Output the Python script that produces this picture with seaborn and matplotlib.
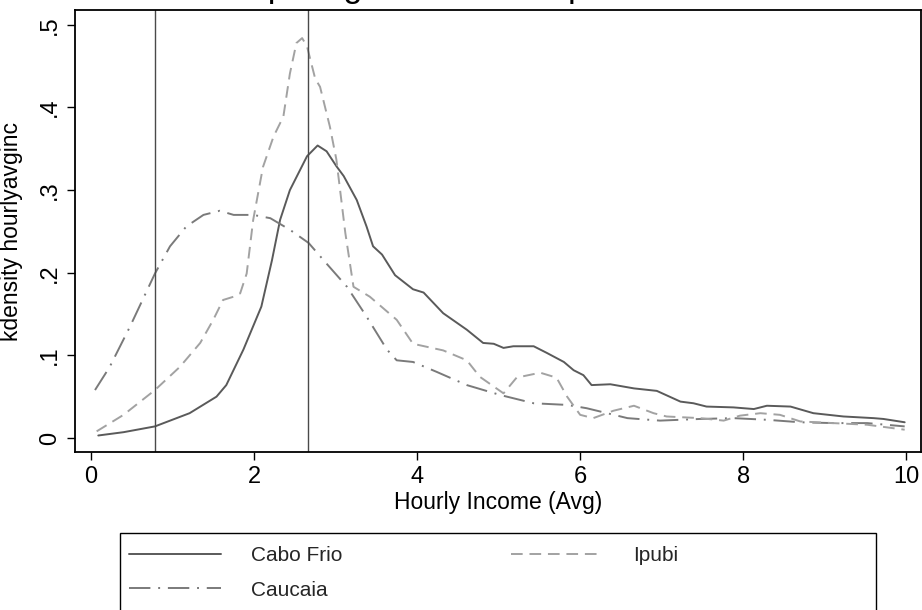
import pandas as pd
import seaborn as sns
import matplotlib.pyplot as plt
from matplotlib.patches import Rectangle

# kernel density of hourly income
cabo_x = [0.09, 0.40, 0.785, 1.21, 1.54, 1.66, 1.87, 2.09, 2.22, 2.32, 2.44, 2.65, 2.78, 2.89,
          3.01, 3.10, 3.26, 3.38, 3.46, 3.57, 3.73, 3.95, 4.08, 4.32, 4.61, 4.81, 4.94, 5.06,
          5.18, 5.43, 5.59, 5.80, 5.92, 6.04, 6.14, 6.37, 6.66, 6.94, 7.23, 7.39, 7.55, 7.88,
          8.13, 8.29, 8.58, 8.86, 9.23, 9.60, 9.72, 9.98]
cabo_y = [0.003, 0.007, 0.014, 0.030, 0.050, 0.064, 0.107, 0.159, 0.215, 0.264, 0.300, 0.341, 0.354, 0.347,
          0.329, 0.317, 0.288, 0.256, 0.232, 0.222, 0.197, 0.180, 0.176, 0.151, 0.131, 0.115, 0.114, 0.109,
          0.111, 0.111, 0.103, 0.092, 0.082, 0.076, 0.064, 0.065, 0.060, 0.057, 0.044, 0.042, 0.038, 0.037,
          0.035, 0.039, 0.038, 0.030, 0.026, 0.024, 0.023, 0.019]

caucaia_x = [0.05, 0.23, 0.48, 0.785, 0.97, 1.17, 1.38, 1.58, 1.75, 1.99, 2.20, 2.44, 2.67, 2.89,
             3.14, 3.38, 3.63, 3.75, 3.95, 4.24, 4.61, 5.02, 5.43, 5.84, 6.08, 6.33, 6.58, 6.98,
             7.47, 7.88, 8.29, 8.70, 9.10, 9.52, 9.98]
caucaia_y = [0.058, 0.086, 0.135, 0.199, 0.232, 0.256, 0.270, 0.275, 0.270, 0.270, 0.266, 0.252, 0.236, 0.211,
             0.183, 0.147, 0.107, 0.094, 0.092, 0.080, 0.064, 0.052, 0.042, 0.040, 0.036, 0.030, 0.024, 0.021,
             0.023, 0.024, 0.022, 0.019, 0.018, 0.018, 0.014]

ipubi_x = [0.07, 0.40, 0.785, 1.09, 1.34, 1.50, 1.62, 1.75, 1.83, 1.91, 1.99, 2.11, 2.24, 2.36,
           2.44, 2.52, 2.59, 2.65, 2.75, 2.81, 2.93, 3.01, 3.12, 3.22, 3.42, 3.75, 3.95, 4.32,
           4.61, 4.77, 5.06, 5.22, 5.51, 5.71, 5.84, 6.00, 6.16, 6.41, 6.66, 6.90, 7.06, 7.47,
           7.76, 7.96, 8.21, 8.45, 8.70, 9.10, 9.52, 9.98]
ipubi_y = [0.008, 0.028, 0.058, 0.086, 0.115, 0.143, 0.167, 0.171, 0.175, 0.199, 0.264, 0.328, 0.365, 0.389,
           0.441, 0.478, 0.484, 0.474, 0.435, 0.425, 0.377, 0.337, 0.248, 0.183, 0.171, 0.143, 0.114, 0.106,
           0.094, 0.074, 0.054, 0.073, 0.079, 0.073, 0.050, 0.028, 0.024, 0.033, 0.039, 0.030, 0.026, 0.024,
           0.021, 0.027, 0.030, 0.028, 0.020, 0.018, 0.016, 0.010]

ref_lines = [0.785, 2.66]
order = ['Cabo Frio', 'Caucaia', 'Ipubi']
x_ticks = [0, 2, 4, 6, 8, 10]
y_ticks = [0, 0.1, 0.2, 0.3, 0.4, 0.5]
y_tick_labels = ['0', '.1', '.2', '.3', '.4', '.5']

df = pd.concat([
    pd.DataFrame({'income': cabo_x, 'density': cabo_y, 'city': 'Cabo Frio'}),
    pd.DataFrame({'income': caucaia_x, 'density': caucaia_y, 'city': 'Caucaia'}),
    pd.DataFrame({'income': ipubi_x, 'density': ipubi_y, 'city': 'Ipubi'}),
], ignore_index=True)

sns.set_theme(style='white')
plt.rcParams['font.family'] = ['Liberation Sans', 'DejaVu Sans']

fig = plt.figure(figsize=(9.22, 6.10), dpi=100)
ax = fig.add_axes([0.0813, 0.259, 0.9176, 0.7246])

colors = {'Cabo Frio': '#5a5a5a', 'Caucaia': '#7a7a7a', 'Ipubi': '#a2a2a2'}
dashes = {'Cabo Frio': '', 'Caucaia': (11, 4, 1, 4), 'Ipubi': (6, 3.5)}
sns.lineplot(data=df, x='income', y='density', hue='city', style='city',
             hue_order=order, style_order=order, palette=colors, dashes=dashes,
             linewidth=1.4, estimator=None, sort=False, ax=ax)

for xv in ref_lines:
    ax.axvline(xv, color='#4a4a4a', linewidth=1.0)

ax.set_xlim(-0.196, 10.18)
ax.set_ylim(-0.017, 0.518)
ax.set_xticks(x_ticks)
ax.set_xticklabels([str(t) for t in x_ticks])
ax.set_yticks(y_ticks)
ax.set_yticklabels(y_tick_labels, rotation=90, va='center')
ax.tick_params(axis='both', which='major', direction='out', length=6, width=1,
               color='black', labelsize=17, labelcolor='black', bottom=True, left=True, pad=4)
for s in ax.spines.values():
    s.set_color('black')
    s.set_linewidth(1.3)

ax.set_xlabel('Hourly Income (Avg)', fontsize=16.5, color='black', labelpad=2)
ax.set_ylabel('kdensity hourlyavginc', fontsize=16.5, color='black')
ax.yaxis.set_label_coords(-0.062, 0.5)

# title sits mostly above the image edge, as in the reference
fig.text(196 / 922, 1 + 3 / 610, 'Comparing Three Municipalities', fontsize=24.5,
         ha='left', va='baseline', color='black')

handles, labels = ax.get_legend_handles_labels()
ax.get_legend().remove()
fig.legend(handles, labels, ncol=2, loc='upper left', bbox_to_anchor=(129 / 922, 1 - 546 / 610),
           frameon=False, fontsize=15, handlelength=4.4, handletextpad=1.45,
           columnspacing=8.1, labelspacing=0.75, borderpad=0, borderaxespad=0)
fig.patches.append(Rectangle((120 / 922, -0.1), (876 - 120) / 922, 1 - 533 / 610 + 0.1,
                             transform=fig.transFigure, fill=False, edgecolor='black', linewidth=1.0))

fig.savefig('out.png', dpi=100)
